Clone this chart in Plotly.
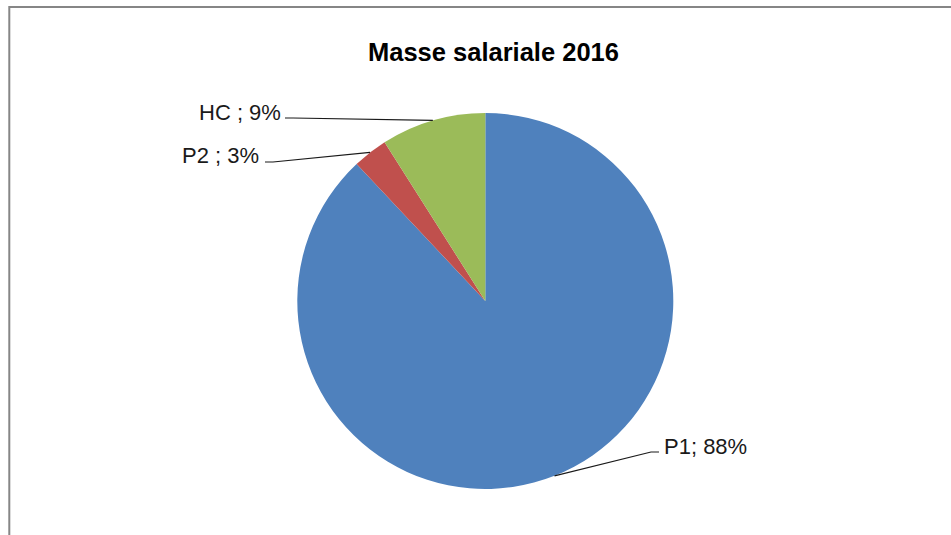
import math
import plotly.graph_objects as go

# ---- data ----
categories = ["P1", "P2", "HC"]
values = [88, 3, 9]
label_texts = ["P1; 88%", "P2 ; 3%", "HC ; 9%"]
colors = ["#4F81BD", "#C0504D", "#9BBB59"]
title_text = "Masse salariale 2016"

# ---- layout constants (pixels) ----
W, H = 951, 535
CX, CY, R = 485.3, 301.0, 188.0

def px(x):
    return x / W

def py(y):
    return 1 - y / H

fig = go.Figure()
fig.add_trace(go.Pie(
    labels=categories,
    values=values,
    sort=False,
    direction="clockwise",
    rotation=0,
    textinfo="none",
    hoverinfo="label+percent",
    marker=dict(colors=colors, line=dict(width=0)),
    domain=dict(x=[px(CX - R), px(CX + R)], y=[py(CY + R), py(CY - R)]),
    showlegend=False,
))

# leader-line tips computed from data (mid-angle of each slice on the rim)
total = sum(values)
tips = []
cum = 0
for v in values:
    mid = (cum + v / 2) / total * 2 * math.pi
    tips.append((CX + R * math.sin(mid), CY - R * math.cos(mid)))
    cum += v

# label placement (pixels): (anchor x, center y, xanchor, line start, kink)
placements = {
    "P1": (662, 446, "left", (659, 452), (651, 452)),
    "P2": (261, 156, "right", (265, 162), (273, 162)),
    "HC": (283, 113, "right", (285, 118), (293, 118)),
}

shapes = []
annotations = []
for cat, txt, tip in zip(categories, label_texts, tips):
    ax_, ay_, anchor, start, kink = placements[cat]
    annotations.append(dict(
        x=px(ax_), y=py(ay_), xref="paper", yref="paper",
        text=txt, showarrow=False, xanchor=anchor, yanchor="middle",
        font=dict(family="Liberation Sans, Arial, sans-serif", size=22, color="#1a1a1a"),
    ))
    path = "M {} {} L {} {} L {} {}".format(
        px(start[0]), py(start[1]), px(kink[0]), py(kink[1]), px(tip[0]), py(tip[1]))
    shapes.append(dict(type="path", xref="paper", yref="paper", path=path,
                       line=dict(color="#1a1a1a", width=1.2)))

# chart-area border
shapes.append(dict(type="rect", xref="paper", yref="paper",
                   x0=px(9.3), y0=py(545), x1=px(965), y1=py(7),
                   line=dict(color="#868686", width=2), fillcolor="rgba(0,0,0,0)"))

annotations.append(dict(
    x=px(493), y=py(52), xref="paper", yref="paper", text="<b>" + title_text + "</b>",
    showarrow=False, xanchor="center", yanchor="middle",
    font=dict(family="Liberation Sans, Arial, sans-serif", size=25.5, color="#000000"),
))

fig.update_layout(
    width=W, height=H,
    margin=dict(l=0, r=0, t=0, b=0),
    paper_bgcolor="white", plot_bgcolor="white",
    shapes=shapes, annotations=annotations,
)

fig.write_html(
    "out.html",
    config={"displayModeBar": False},
    post_script="document.body.style.margin='0';document.body.style.overflow='hidden';",
)
